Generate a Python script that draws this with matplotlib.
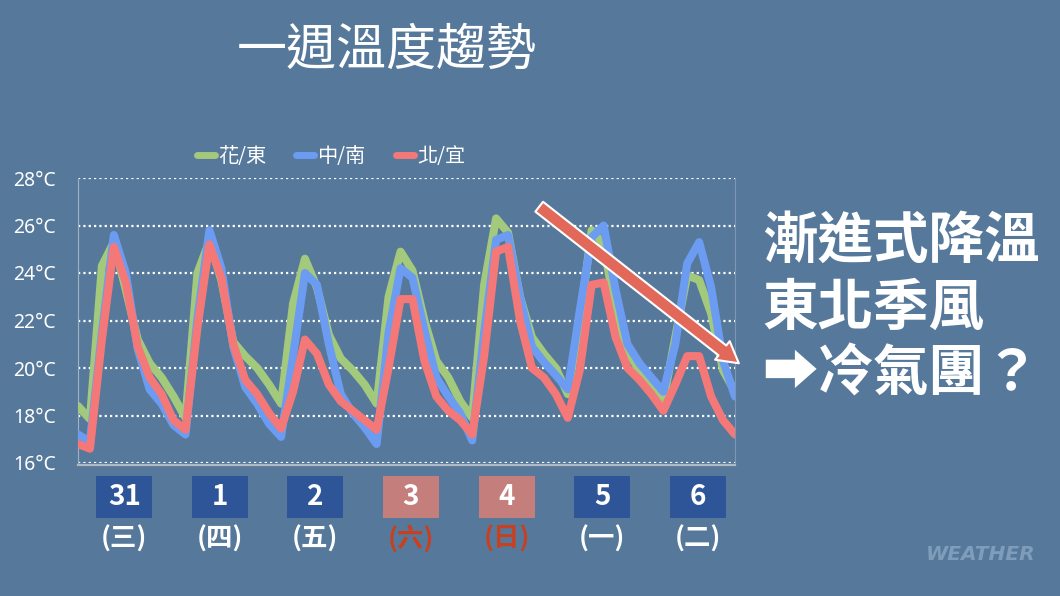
import matplotlib
matplotlib.use("Agg")
import matplotlib.pyplot as plt
from matplotlib.patches import Rectangle, FancyArrowPatch

# -----------------------------------------------
# data (3-hourly, 8 points per day)
# -----------------------------------------------
steps = list(range(56))

east = [18.4, 17.85, 24.3, 25.3, 23.3, 21.2, 20.2, 19.6,
        18.8, 17.9, 24.0, 25.35, 23.7, 21.1, 20.5, 20.0,
        19.3, 18.5, 22.7, 24.6, 23.4, 21.4, 20.4, 19.9,
        19.3, 18.5, 23.0, 24.9, 24.1, 22.0, 20.3, 19.6,
        18.6, 17.9, 23.5, 26.3, 25.7, 23.0, 21.3, 20.6,
        20.0, 18.9, 22.0, 25.8, 25.2, 22.4, 20.7, 19.9,
        19.3, 18.6, 21.3, 23.9, 23.7, 22.3, 19.9, 19.0]

central = [17.2, 16.9, 21.5, 25.6, 24.0, 20.8, 19.1, 18.5,
           17.6, 17.2, 22.1, 25.8, 24.2, 20.9, 19.2, 18.5,
           17.65, 17.1, 20.5, 24.0, 23.5, 21.0, 18.9, 18.1,
           17.5, 16.8, 21.5, 24.2, 23.8, 21.6, 19.6, 18.8,
           18.1, 16.95, 21.5, 25.4, 25.6, 23.0, 20.9, 20.25,
           19.7, 19.1, 22.4, 25.5, 26.0, 23.3, 21.0, 20.2,
           19.6, 19.0, 21.0, 24.4, 25.3, 23.4, 20.3, 18.8]

north = [16.8, 16.6, 21.2, 25.1, 23.6, 20.9, 19.6, 18.9,
         17.8, 17.4, 21.7, 25.2, 23.8, 21.0, 19.5, 18.9,
         18.1, 17.45, 19.0, 21.2, 20.6, 19.3, 18.6, 18.2,
         17.8, 17.4, 20.0, 22.9, 22.9, 20.3, 18.8, 18.2,
         17.8, 17.2, 20.5, 24.9, 25.1, 22.0, 20.0, 19.6,
         18.9, 17.9, 19.9, 23.5, 23.6, 21.3, 20.0, 19.5,
         18.9, 18.2, 19.3, 20.5, 20.5, 18.8, 17.8, 17.2]

series_names = ["花/東", "中/南", "北/宜"]
dates = ["31", "1", "2", "3", "4", "5", "6"]
weekdays = ["(三)", "(四)", "(五)", "(六)", "(日)", "(一)", "(二)"]
weekend = [False, False, False, True, True, False, False]
yticks = [16, 18, 20, 22, 24, 26, 28]

# -----------------------------------------------
# style
# -----------------------------------------------
plt.rcParams["font.family"] = ["Noto Sans CJK TC", "DejaVu Sans"]
BG = "#56799b"
GREEN = "#a3c97c"
BLUE = "#6c9cf2"
RED = "#f47878"

fig = plt.figure(figsize=(10.6, 5.96), dpi=100, facecolor=BG)
L, B, W, H = 78 / 1060, 1 - 463 / 596, 657 / 1060, 285 / 596
ax = fig.add_axes([L, B, W, H])
ax.set_facecolor(BG)

for y, c, name in zip([east, central, north], [GREEN, BLUE, RED], series_names):
    ax.plot(steps, y, color=c, lw=5.8, solid_joinstyle="round",
            solid_capstyle="round", label=name, zorder=3)

ax.set_xlim(0, 55)
ax.set_ylim(16, 28)
ax.set_yticks(yticks)
ax.set_yticklabels([f"{t}°C" for t in yticks], fontsize=14, color="white",
                   family=["Noto Sans", "DejaVu Sans"])
ax.set_xticks([])
ax.tick_params(axis="y", length=0, pad=16)
for t in yticks:
    ax.axhline(t, color="white", lw=1.6, ls=(0, (1, 1.4)), zorder=2)
ax.spines["top"].set_visible(False)
ax.spines["left"].set_color("#9fb0c4")
ax.spines["left"].set_linewidth(0.8)
ax.spines["right"].set_color("#7d97b2")
ax.spines["right"].set_linewidth(0.8)
ax.spines["bottom"].set_color("#b0b8c4")
ax.spines["bottom"].set_linewidth(1.6)
ax.spines["bottom"].set_position(("outward", 1.5))

leg = ax.legend(loc="center", bbox_to_anchor=(0.385, 1.074), ncol=3,
                frameon=False, fontsize=14.5, handlelength=0.9,
                handletextpad=0.15, columnspacing=1.5, labelcolor="white")
for h in leg.get_lines():
    h.set_linewidth(5)

# title
fig.text(0.365, 0.914, "一週溫度趨勢", fontsize=36, color="white",
         ha="center", va="center", fontweight="medium")

# date boxes
for k, (d, wd, we) in enumerate(zip(dates, weekdays, weekend)):
    xc = L + (4 + 8 * k) / 55 * W - 1.5 / 1060
    bw, bh = 56 / 1060, 42 / 596
    fig.add_artist(Rectangle((xc - bw / 2, 1 - 518 / 596), bw, bh,
                             transform=fig.transFigure,
                             facecolor="#c47f7c" if we else "#2d5597",
                             edgecolor="none"))
    fig.text(xc, 1 - 497 / 596, d, fontsize=20, fontweight="bold",
             color="white", ha="center", va="center")
    fig.text(xc, 1 - 539 / 596, wd, fontsize=19, fontweight="bold",
             color="#c8401f" if we else "white", ha="center", va="center")

# trend arrow
arr = FancyArrowPatch((537 / 1060, 1 - 205 / 596), (741 / 1060, 1 - 365 / 596),
                      transform=fig.transFigure,
                      arrowstyle="simple,head_width=17,head_length=15,tail_width=9",
                      mutation_scale=1, facecolor="#e2685a", edgecolor="white",
                      lw=1.5, zorder=10)
fig.add_artist(arr)

# right side text
for txt, yy in zip(["漸進式降溫", "東北季風", "➡冷氣團？"], [242, 309, 375]):
    fig.text(762 / 1060, 1 - yy / 596, txt, fontsize=40, fontweight="bold",
             color="white", ha="left", va="center",
             family=["Noto Sans CJK TC", "DejaVu Sans"])

# watermark
fig.text(0.925, 0.069, "WEATHER", fontsize=14.5, fontweight="bold",
         fontstyle="italic", color="#7f9dba", ha="center", va="center",
         family=["DejaVu Sans"])

plt.savefig("out.png", dpi=100, facecolor=BG)
